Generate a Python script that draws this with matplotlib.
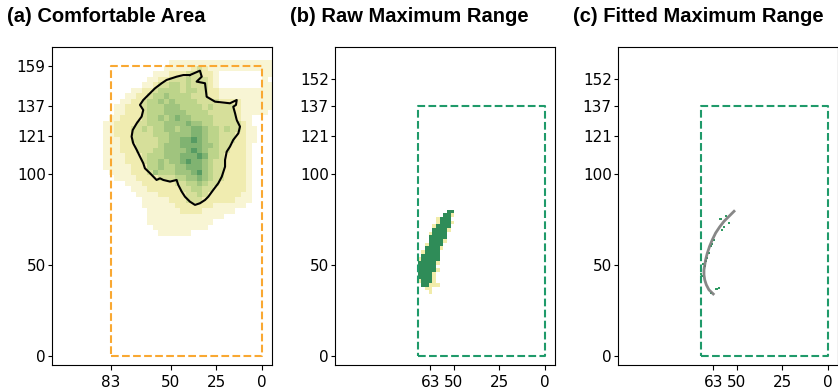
import numpy as np
import matplotlib.pyplot as plt
from matplotlib.colors import ListedColormap, BoundaryNorm

# (a) comfortable-area density on 3-unit cells.
# Rows run from y=165 down to y=63, columns from x=90 down to x=-6.
# '.' = empty, '1'..'7' = pale yellow -> dark green
comfort_rows = [
    "........ ........ ........ ........",
    "........ .....111 11111111 11111111",
    "........ ....1111 12321111 11111111",
    "........ ..111222 333221.. ......11",
    "........ .1122333 433321.. ......1.",
    "........ 11233443 433321.. ......11",
    "......11 22344443 44332211 11111111",
    ".....112 23445444 43332211 11111111",
    "....1122 34454544 44333322 22111111",
    "...11222 34445554 44434333 32111111",
    "...11222 34445555 44443333 3211111.",
    "..112222 34454565 54444333 3211....",
    ".1122223 34445555 65544333 3321....",
    ".1122233 43445545 56654434 33211...",
    ".1122233 33444555 56654433 32211...",
    ".1112233 33344556 67654433 32211...",
    ".1112223 33345556 66655433 2221....",
    ".1112223 33445555 67654433 2221....",
    ".1111222 34445556 66764432 2221....",
    ".1111222 34454556 76654332 2221....",
    ".1111122 24454455 66654332 2221....",
    "..111122 23544455 56754332 2221....",
    "...11112 22233344 55654332 2221....",
    ".....111 22222233 44543322 2221....",
    "......11 12222223 34433222 2221....",
    ".......1 11122222 33432222 2211....",
    "........ 11111222 33322222 2111....",
    "........ 11111122 22222111 111.....",
    "........ .1111112 22211111 1.......",
    "........ .1111111 1111111. ........",
    "........ .1111111 11111... ........",
    "........ ..111111 1111.... ........",
    "........ ...11111 1....... ........",
    "........ ........ ........ ........",
]
comfort_extent = (90, -6, 63, 165)

# boundary of the comfortable area
contour_x = [39.6, 34.1, 33.1, 35.9, 31.3, 30.4, 25.8, 17.6, 13.9, 14.3, 15.8,
             14.8, 13.9, 12.1, 13.0, 15.8, 17.6, 19.4, 20.3, 20.3, 22.1, 24.0,
             26.8, 29.5, 31.3, 34.1, 36.8, 39.6, 42.3, 44.1, 46.0, 46.9, 50.5,
             54.2, 56.0, 57.9, 61.5, 64.3, 65.2, 67.0, 68.8, 70.7, 71.6, 71.0,
             68.8, 66.1, 65.2, 67.0, 65.2, 62.5, 58.8, 55.1, 52.4, 46.9, 43.2]
contour_y = [154.2, 156.6, 153.3, 150.6, 149.7, 142.3, 139.6, 138.7, 140.5,
             137.8, 136.8, 133.2, 129.5, 125.9, 122.2, 118.6, 114.9, 112.1,
             107.6, 103.9, 98.4, 94.8, 91.1, 87.4, 85.6, 83.8, 82.9, 84.7,
             87.4, 90.2, 93.9, 96.6, 95.7, 96.6, 97.5, 96.6, 100.3, 103.0,
             105.8, 109.4, 113.1, 116.7, 120.4, 124.0, 127.7, 131.4, 135.0,
             137.8, 140.5, 143.2, 146.9, 149.7, 151.5, 153.3, 154.2]

# (b) raw maximum range on 2-unit cells, rows y=82 -> 34, columns x=72 -> 48
# 'y' = sparse hits, 'g' = dense hits
raw_rows = [
    "............",
    ".........gg.",
    "........ggy.",
    "......yggg..",
    "......ygggy.",
    ".....ygggg..",
    ".....ggggy..",
    "....ygggg...",
    "....ggggg...",
    "....ggggy...",
    "...ygggg....",
    "...ggggy....",
    "..ygggg.....",
    "..ggggg.....",
    ".yggggg.....",
    ".gggggy.....",
    ".ggggg......",
    ".gggggy.....",
    ".ggggy......",
    ".ggggy......",
    ".ygggy......",
    "..ggyyy.....",
    "...yy.......",
    "....y.......",
]
raw_extent = (72, 48, 34, 82)

# (c) fitted maximum range curve and the points it was fitted to
fit_x = [51.6, 54.5, 57.1, 59.5, 61.7, 63.5, 65.0, 66.3, 67.2, 68.1, 68.1,
         67.7, 66.8, 65.4, 63.0]
fit_y = [79.4, 76.5, 73.9, 70.8, 67.5, 63.8, 60.2, 56.3, 52.8, 47.3, 44.5,
         41.8, 39.0, 36.3, 34.0]
hit_x = [56.2, 59.3, 58.6, 54.4, 57.0, 58.0, 62.6, 63.5, 64.1, 65.4, 66.6,
         67.2, 67.7, 68.5, 69.4, 69.6, 69.8, 61.7, 60.8, 60.0, 64.5]
hit_y = [76.7, 75.4, 75.1, 73.0, 70.5, 69.3, 63.8, 61.5, 60.2, 56.5, 53.8,
         52.0, 49.1, 50.5, 43.6, 40.9, 45.0, 37.0, 37.0, 37.1, 34.5]

comfort_box = (83, 159)
range_box = (70, 137)

comfort_xticks = [83, 50, 25, 0]
comfort_yticks = [0, 50, 100, 121, 137, 159]
range_xticks = [63, 50, 25, 0]
range_yticks = [0, 50, 100, 121, 137, 152]

titles = ["(a) Comfortable Area", "(b) Raw Maximum Range",
          "(c) Fitted Maximum Range"]

comfort_colors = ["#f8f5d4", "#f0ecb0", "#d6df9a", "#bcd48a", "#a0c47e",
                  "#80b371", "#579b63"]
raw_colors = ["#f1ecaa", "#2f8c58"]
orange = "#f9a832"
green = "#1f9a6a"


def grid_from_rows(rows, codes):
    cells = [[codes.index(ch) for ch in row.replace(" ", "")] for row in rows]
    return np.ma.masked_equal(np.array(cells), 0)


def level_cmap(colors):
    n = len(colors)
    return ListedColormap(colors), BoundaryNorm(np.arange(0.5, n + 1), n)


def draw_box(ax, box, color):
    w, h = box
    ax.plot([w, 0, 0, w, w], [0, 0, h, h, 0], ls="--", lw=1.5, color=color)


fig = plt.figure(figsize=(8.38, 3.9), dpi=100)
lefts = [52, 335, 618]
axes = [fig.add_axes([l / 838, 25 / 390, 219.5 / 838, 318 / 390]) for l in lefts]

# (a)
ax = axes[0]
cmap, norm = level_cmap(comfort_colors)
ax.imshow(grid_from_rows(comfort_rows, ".1234567"), cmap=cmap, norm=norm,
          extent=comfort_extent, origin="upper", interpolation="nearest",
          aspect="auto")
ax.plot(contour_x + contour_x[:1], contour_y + contour_y[:1], color="black",
        lw=1.5)
draw_box(ax, comfort_box, orange)
ax.set_xticks(comfort_xticks)
ax.set_yticks(comfort_yticks)

# (b)
ax = axes[1]
cmap, norm = level_cmap(raw_colors)
ax.imshow(grid_from_rows(raw_rows, ".yg"), cmap=cmap, norm=norm,
          extent=raw_extent, origin="upper", interpolation="nearest",
          aspect="auto")
draw_box(ax, range_box, green)
ax.set_xticks(range_xticks)
ax.set_yticks(range_yticks)

# (c)
ax = axes[2]
ax.scatter(hit_x, hit_y, marker="s", s=3, color="#2e9a62", lw=0)
ax.plot(fit_x, fit_y, color="#7a7a7a", lw=2, alpha=0.9)
draw_box(ax, range_box, green)
ax.set_xticks(range_xticks)
ax.set_yticks(range_yticks)

for ax, title in zip(axes, titles):
    ax.set_xlim(115.3, -5.2)
    ax.set_ylim(-5, 169.6)
    ax.tick_params(axis="both", labelsize=11)
    ax.tick_params(axis="y", length=3, pad=1.5)
    ax.set_title(title, loc="left", x=-0.205, pad=18, fontsize=14.5,
                 fontweight="bold", family=["Liberation Sans", "DejaVu Sans"])

fig.savefig("out.png", dpi=100)
